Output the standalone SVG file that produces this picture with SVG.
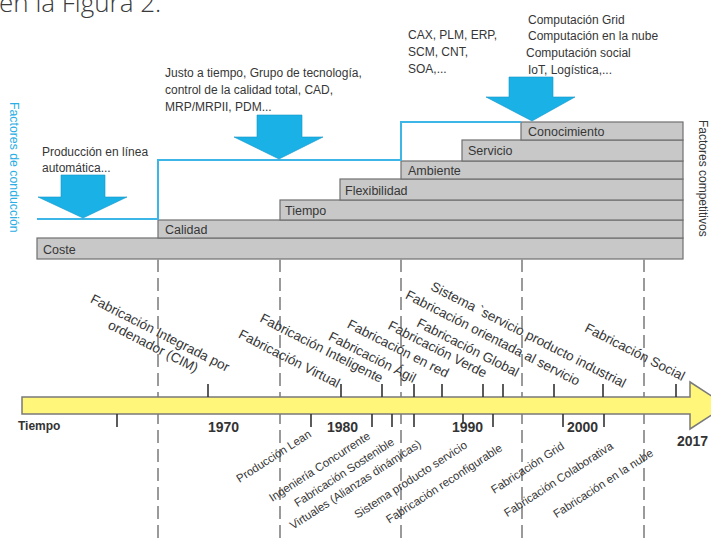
<svg xmlns="http://www.w3.org/2000/svg" width="711" height="538" viewBox="0 0 711 538">
<style>
text{font-family:"Liberation Sans",Arial,sans-serif;fill:#363636}
.t12{font-size:12px}
.bar rect{fill:#c8c8c8;stroke:#707070;stroke-width:1.2}
.bar text{font-size:12.5px}
.drv{fill:#19b1e6;stroke:#1596c8;stroke-width:0.6}
.up{font-size:13.5px}
.dn{font-size:11.5px}
.yr{font-size:14px;font-weight:bold;fill:#333}
.tick{stroke:#333;stroke-width:1.6}
.dash{stroke:#9a9a9a;stroke-width:2;stroke-dasharray:13 6;fill:none}
</style>

<g id="heading-fragment">
<text x="-1" y="12" style="font-family:'Open Sans',sans-serif;font-size:26px;font-weight:300;fill:#3a3a3a">en la Figura 2.</text>
</g>

<g id="axis-drivers">
<text class="t12" x="10" y="102" transform="rotate(90 10 102)" style="fill:#2aaee4;font-size:12.3px">Factores de conducción</text>
</g>
<g id="axis-competitive">
<text class="t12" x="699" y="120" transform="rotate(90 699 120)">Factores competitivos</text>
</g>

<g id="bar-coste" class="bar"><rect x="37" y="238" width="646" height="21"/><text x="43" y="254">Coste</text></g>
<g id="bar-calidad" class="bar"><rect x="158" y="220" width="525" height="18"/><text x="165" y="234">Calidad</text></g>
<g id="bar-tiempo" class="bar"><rect x="280" y="200" width="403" height="20"/><text x="285" y="215">Tiempo</text></g>
<g id="bar-flexibilidad" class="bar"><rect x="340" y="179" width="343" height="21"/><text x="345" y="195">Flexibilidad</text></g>
<g id="bar-ambiente" class="bar"><rect x="401" y="161" width="282" height="18"/><text x="408" y="175">Ambiente</text></g>
<g id="bar-servicio" class="bar"><rect x="462" y="140" width="221" height="21"/><text x="468" y="155">Servicio</text></g>
<g id="bar-conocimiento" class="bar"><rect x="521" y="122" width="162" height="18"/><text x="528" y="136">Conocimiento</text></g>

<g id="connectors">
<polyline points="37,219 158,219 158,160 401,160 401,122 521,122" fill="none" stroke="#3bb6e6" stroke-width="2"/>
<line class="dash" x1="158" y1="259" x2="158" y2="538"/>
<line class="dash" x1="280" y1="259" x2="280" y2="538"/>
<line class="dash" x1="401" y1="259" x2="401" y2="538"/>
<line class="dash" x1="522" y1="259" x2="522" y2="538"/>
<line class="dash" x1="644" y1="259" x2="644" y2="538"/>
</g>

<g id="driver-1">
<path class="drv" d="M61,175 H105 V197 H127 L83,218 L38,197 H61 Z"/>
<text class="t12" x="42" y="156">Producción en línea</text>
<text class="t12" x="42" y="172">automática...</text>
</g>
<g id="driver-2">
<path class="drv" d="M257,115 H302 V137 H323 L279,159 L234,137 H257 Z"/>
<text class="t12" x="165" y="77">Justo a tiempo, Grupo de tecnología,</text>
<text class="t12" x="165" y="94">control de la calidad total, CAD,</text>
<text class="t12" x="165" y="111">MRP/MRPII, PDM...</text>
</g>
<g id="driver-3">
<text class="t12" x="408" y="39">CAX, PLM, ERP,</text>
<text class="t12" x="408" y="56">SCM, CNT,</text>
<text class="t12" x="408" y="73">SOA,...</text>
</g>
<g id="driver-4">
<path class="drv" d="M509,77 H553 V97 H575 L532,121 L486,97 H509 Z"/>
<text class="t12" x="528" y="24">Computación Grid</text>
<text class="t12" x="528" y="40">Computación en la nube</text>
<text class="t12" x="526" y="57">Computación social</text>
<text class="t12" x="528" y="74">IoT, Logística,...</text>
</g>

<g id="timeline">
<path d="M22,397 H690 V382 L726,405.5 L690,429 V414 H22 Z" fill="#fff67a" stroke="#7a7a7a" stroke-width="1.5"/>
<g id="ticks">
<line class="tick" x1="208" y1="384" x2="208" y2="397"/>
<line class="tick" x1="341" y1="384" x2="341" y2="397"/>
<line class="tick" x1="382" y1="384" x2="382" y2="397"/>
<line class="tick" x1="414" y1="384" x2="414" y2="397"/>
<line class="tick" x1="442" y1="384" x2="442" y2="397"/>
<line class="tick" x1="483" y1="384" x2="483" y2="397"/>
<line class="tick" x1="503" y1="384" x2="503" y2="397"/>
<line class="tick" x1="554" y1="384" x2="554" y2="397"/>
<line class="tick" x1="603" y1="384" x2="603" y2="397"/>
<line class="tick" x1="676" y1="384" x2="676" y2="397"/>
<line class="tick" x1="117" y1="414" x2="117" y2="427"/>
<line class="tick" x1="311" y1="414" x2="311" y2="427"/>
<line class="tick" x1="372" y1="414" x2="372" y2="427"/>
<line class="tick" x1="392" y1="414" x2="392" y2="427"/>
<line class="tick" x1="414" y1="414" x2="414" y2="427"/>
<line class="tick" x1="463" y1="414" x2="463" y2="423"/>
<line class="tick" x1="493" y1="414" x2="493" y2="427"/>
<line class="tick" x1="563" y1="414" x2="563" y2="427"/>
<line class="tick" x1="604" y1="414" x2="604" y2="427"/>
</g>
<text x="18" y="430" style="font-size:12px;font-weight:bold;fill:#333">Tiempo</text>
<text class="yr" x="208" y="432">1970</text>
<text class="yr" x="327" y="432">1980</text>
<text class="yr" x="452" y="432">1990</text>
<text class="yr" x="567" y="432">2000</text>
<text class="yr" x="677" y="446">2017</text>
</g>

<g id="labels-above">
<g id="lbl-cim" transform="translate(158 337) rotate(27)">
<text class="up" x="0" y="0" text-anchor="middle">Fabricación Integrada por</text>
<text class="up" x="0" y="15" text-anchor="middle">ordenador (CIM)</text>
</g>
<text id="lbl-virtual" class="up" x="337" y="388" text-anchor="end" transform="rotate(27 337 388)">Fabricación Virtual</text>
<text id="lbl-inteligente" class="up" x="380" y="383" text-anchor="end" transform="rotate(27 380 383)">Fabricación Inteligente</text>
<text id="lbl-agil" class="up" x="413" y="383" text-anchor="end" transform="rotate(27 413 383)">Fabricación Ágil</text>
<text id="lbl-red" class="up" x="446" y="378" text-anchor="end" transform="rotate(27 446 378)">Fabricación en red</text>
<text id="lbl-verde" class="up" x="484" y="378" text-anchor="end" transform="rotate(27 484 378)">Fabricación Verde</text>
<text id="lbl-global" class="up" x="516" y="377" text-anchor="end" transform="rotate(27 516 377)">Fabricación Global</text>
<text id="lbl-orientada" class="up" x="577" y="386" text-anchor="end" transform="rotate(27 577 386)">Fabricación orientada al servicio</text>
<text id="lbl-sistema-ind" class="up" x="623" y="388" text-anchor="end" transform="rotate(27 623 388)">Sistema `servicio producto industrial</text>
<text id="lbl-social" class="up" x="682" y="381" text-anchor="end" transform="rotate(27 682 381)">Fabricación Social</text>
</g>

<g id="labels-below">
<text id="lbl-lean" class="dn" x="312" y="436" text-anchor="end" transform="rotate(-33 312 436)">Producción Lean</text>
<text id="lbl-concurrente" class="dn" x="371" y="438" text-anchor="end" transform="rotate(-33 371 438)">Ingeniería Concurrente</text>
<text id="lbl-sostenible" class="dn" x="395" y="444" text-anchor="end" transform="rotate(-33 395 444)">Fabricación Sostenible</text>
<text id="lbl-virtuales" class="dn" x="422" y="446" text-anchor="end" transform="rotate(-33 422 446)">Virtuales (Alianzas dinámicas)</text>
<text id="lbl-sps" class="dn" x="468" y="447" text-anchor="end" transform="rotate(-33 468 447)">Sistema producto servicio</text>
<text id="lbl-reconf" class="dn" x="503" y="450" text-anchor="end" transform="rotate(-33 503 450)">Fabricación reconfigurable</text>
<text id="lbl-grid" class="dn" x="565" y="448" text-anchor="end" transform="rotate(-33 565 448)">Fabricación Grid</text>
<text id="lbl-colab" class="dn" x="614" y="448" text-anchor="end" transform="rotate(-33 614 448)">Fabricación Colaborativa</text>
<text id="lbl-nube" class="dn" x="654" y="455" text-anchor="end" transform="rotate(-33 654 455)">Fabricación en la nube</text>
</g>
</svg>
